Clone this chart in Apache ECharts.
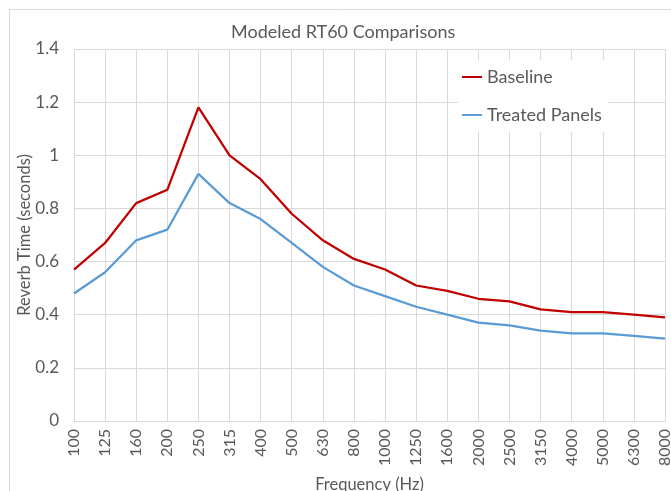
<!DOCTYPE html>
<html>
<head>
<meta charset="utf-8">
<script src="https://cdn.jsdelivr.net/npm/echarts@6/dist/echarts.min.js"></script>
<style>
  html, body { margin: 0; padding: 0; background: #fff; overflow: hidden; }
  #chart { width: 671px; height: 491px; }
</style>
</head>
<body>
<div id="chart"></div>
<script>
// 频率（Hz）
var freqs = ['100', '125', '160', '200', '250', '315', '400', '500', '630', '800',
             '1000', '1250', '1600', '2000', '2500', '3150', '4000', '5000', '6300', '8000'];
// RT60 (s)
var baseline = [0.57, 0.67, 0.82, 0.87, 1.18, 1.00, 0.91, 0.78, 0.68, 0.61,
                0.57, 0.51, 0.49, 0.46, 0.45, 0.42, 0.41, 0.41, 0.40, 0.39];
var treated  = [0.48, 0.56, 0.68, 0.72, 0.93, 0.82, 0.76, 0.67, 0.58, 0.51,
                0.47, 0.43, 0.40, 0.37, 0.36, 0.34, 0.33, 0.33, 0.32, 0.31];

var font = 'Lato, "Open Sans", sans-serif';
var grey = '#595959';

var chart = echarts.init(document.getElementById('chart'));
chart.setOption({
  animation: false,
  textStyle: { fontFamily: font },
  graphic: [{
    type: 'rect',
    shape: { x: 9.5, y: 9.5, width: 670, height: 490 },
    style: { fill: 'none', stroke: '#d9d9d9', lineWidth: 1 },
    silent: true
  }],
  title: {
    text: 'Modeled RT60 Comparisons',
    left: 226,
    top: 18,
    textStyle: { color: grey, fontSize: 18, fontWeight: 'normal', fontFamily: font }
  },
  legend: {
    orient: 'vertical',
    left: 458,
    top: 60,
    itemGap: 20,
    itemWidth: 20,
    itemHeight: 2,
    icon: 'rect',
    backgroundColor: '#fff',
    padding: [8, 6, 8, 4],
    textStyle: { color: grey, fontSize: 18, fontFamily: font },
    data: ['Baseline', 'Treated Panels']
  },
  grid: { left: 74, right: 6, top: 49, bottom: 70, containLabel: false, outerBoundsMode: 'none' },
  xAxis: {
    type: 'category',
    data: freqs,
    boundaryGap: false,
    name: 'Frequency (Hz)',
    nameLocation: 'middle',
    nameGap: 55,
    nameTextStyle: { color: grey, fontSize: 16.5, verticalAlign: 'top' },
    axisLine: { lineStyle: { color: '#d9d9d9' } },
    axisTick: { show: false },
    axisLabel: { color: grey, fontSize: 16, rotate: 90, margin: 8, interval: 0 },
    splitLine: { show: true, lineStyle: { color: '#d9d9d9' } }
  },
  yAxis: {
    type: 'value',
    min: 0,
    max: 1.4,
    interval: 0.2,
    name: 'Reverb Time (seconds)',
    nameLocation: 'middle',
    nameGap: 41,
    nameMoveOverlap: false,
    nameTextStyle: { color: grey, fontSize: 16.5 },
    axisLine: { show: false },
    axisTick: { show: false },
    axisLabel: { color: grey, fontSize: 17, margin: 15 },
    splitLine: { lineStyle: { color: '#d9d9d9' } }
  },
  series: [{
    name: 'Baseline',
    type: 'line',
    data: baseline,
    symbol: 'none',
    itemStyle: { color: '#c00000' },
    lineStyle: { color: '#c00000', width: 2.25 }
  }, {
    name: 'Treated Panels',
    type: 'line',
    data: treated,
    symbol: 'none',
    itemStyle: { color: '#5b9bd5' },
    lineStyle: { color: '#5b9bd5', width: 2.25 }
  }]
});
</script>
</body>
</html>
